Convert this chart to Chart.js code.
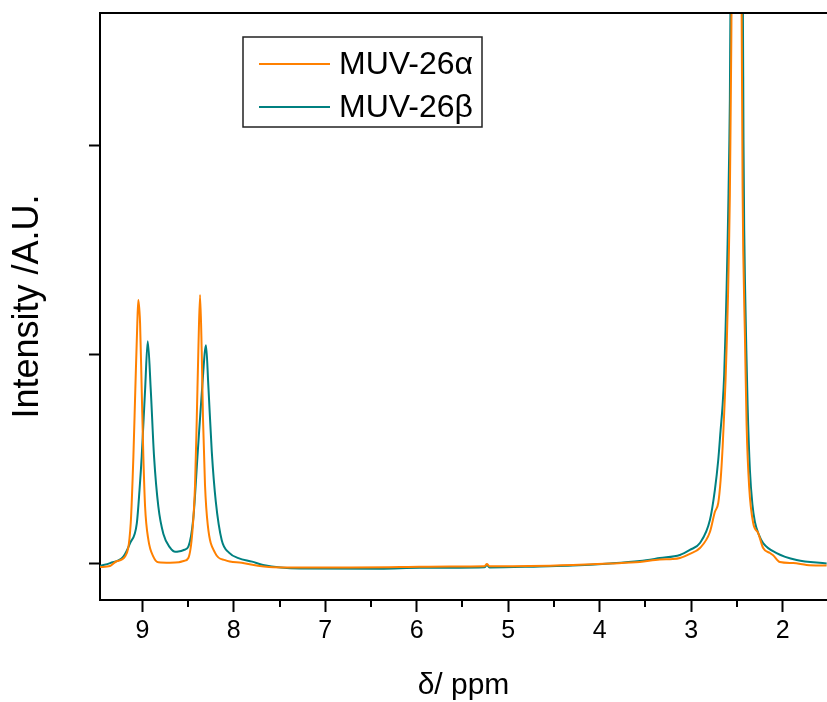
<!DOCTYPE html>
<html>
<head>
<meta charset="utf-8">
<script src="https://cdn.jsdelivr.net/npm/chart.js@4.4.1/dist/chart.umd.min.js"></script>
<style>
  html, body { margin: 0; padding: 0; background: #fff; }
  #wrap { width: 827px; height: 702px; }
</style>
</head>
<body>
<div id="wrap"><canvas id="c" width="827" height="702"></canvas></div>
<script>
// ---- data (chemical shift in ppm, intensity in arbitrary units) ----
const alphaPpm = [9.462, 9.353, 9.280, 9.189, 9.127, 9.098, 9.077, 9.055, 9.044, 9.025, 9.007, 8.989, 8.970, 8.934, 8.880, 8.825, 8.697, 8.600, 8.540, 8.497, 8.453, 8.424, 8.405, 8.388, 8.369, 8.351, 8.337, 8.315, 8.285, 8.205, 8.096, 7.914, 7.571, 7.276, 6.730, 6.183, 5.637, 5.260, 5.233, 5.205, 4.763, 4.293, 3.889, 3.561, 3.342, 3.200, 3.123, 3.014, 2.904, 2.795, 2.741, 2.704, 2.678, 2.656, 2.639, 2.624, 2.610, 2.597, 2.586, 2.577, 2.569, 2.561, 2.558, 2.500, 2.449, 2.438, 2.431, 2.413, 2.394, 2.366, 2.322, 2.267, 2.213, 2.139, 2.107, 2.030, 1.885, 1.738, 1.519];
const alphaInt = [-0.018, -0.013, 0.010, 0.032, 0.193, 0.511, 0.831, 1.152, 1.262, 1.152, 0.831, 0.511, 0.271, 0.112, 0.032, 0.005, 0.003, 0.005, 0.012, 0.025, 0.151, 0.375, 0.695, 1.015, 1.286, 1.015, 0.695, 0.375, 0.184, 0.050, 0.015, 0.002, -0.019, -0.020, -0.020, -0.018, -0.015, -0.014, -0.004, -0.014, -0.013, -0.008, -0.001, 0.006, 0.018, 0.020, 0.025, 0.045, 0.073, 0.150, 0.246, 0.289, 0.399, 0.557, 0.720, 0.878, 1.070, 1.286, 1.525, 1.764, 2.124, 2.508, 2.700, 3.500, 2.700, 1.804, 1.502, 1.104, 0.663, 0.366, 0.193, 0.145, 0.073, 0.049, 0.040, 0.006, 0.001, -0.008, -0.011];

const betaPpm = [9.462, 9.353, 9.208, 9.134, 9.061, 9.031, 9.007, 8.970, 8.941, 8.908, 8.872, 8.825, 8.770, 8.697, 8.640, 8.607, 8.540, 8.497, 8.443, 8.394, 8.344, 8.304, 8.279, 8.241, 8.197, 8.132, 8.050, 7.950, 7.800, 7.681, 7.276, 6.402, 5.965, 5.260, 5.233, 5.205, 4.654, 4.293, 3.889, 3.561, 3.342, 3.123, 3.014, 2.904, 2.795, 2.741, 2.704, 2.678, 2.656, 2.639, 2.624, 2.613, 2.602, 2.593, 2.584, 2.577, 2.570, 2.500, 2.435, 2.428, 2.420, 2.410, 2.399, 2.383, 2.358, 2.330, 2.303, 2.259, 2.213, 2.066, 1.847, 1.519];
const betaInt = [-0.013, 0.001, 0.032, 0.097, 0.190, 0.351, 0.511, 0.831, 1.064, 0.831, 0.511, 0.271, 0.140, 0.075, 0.055, 0.056, 0.065, 0.080, 0.215, 0.535, 0.855, 1.045, 0.855, 0.535, 0.295, 0.110, 0.050, 0.025, 0.008, -0.008, -0.025, -0.026, -0.022, -0.019, -0.008, -0.020, -0.015, -0.011, -0.001, 0.011, 0.025, 0.040, 0.064, 0.097, 0.207, 0.351, 0.495, 0.639, 0.759, 0.903, 1.119, 1.311, 1.526, 1.741, 1.981, 2.221, 2.700, 3.500, 2.700, 2.028, 1.596, 1.308, 1.068, 0.759, 0.448, 0.280, 0.198, 0.136, 0.097, 0.049, 0.016, -0.001];

const seriesLabels = ['MUV-26\u03B1', 'MUV-26\u03B2'];
const xMajorTicks = [9, 8, 7, 6, 5, 4, 3, 2];
const xMinorTicks = [8.5, 7.5, 6.5, 5.5, 4.5, 3.5, 2.5];
const yTicks = [0, 1, 2];

const FONT = "'Liberation Sans', Arial, sans-serif";
const ORANGE = '#FF8000';
const TEAL = '#008080';

const framePlugin = {
  id: 'frame',
  afterDraw(chart) {
    const ctx = chart.ctx;
    const ca = chart.chartArea;
    const xs = chart.scales.x;
    ctx.save();
    // top frame line
    ctx.strokeStyle = '#000';
    ctx.lineWidth = 2;
    ctx.beginPath();
    ctx.moveTo(ca.left - 1, ca.top);
    ctx.lineTo(chart.width, ca.top);
    ctx.stroke();
    // minor ticks
    xMinorTicks.forEach(v => {
      const px = Math.round(xs.getPixelForValue(v));
      ctx.beginPath();
      ctx.moveTo(px, ca.bottom);
      ctx.lineTo(px, ca.bottom + 7);
      ctx.stroke();
    });
    // legend box
    const bx = 243, by = 37, bw = 239, bh = 90;
    ctx.lineWidth = 1.5;
    ctx.strokeStyle = '#222';
    ctx.fillStyle = '#fff';
    ctx.fillRect(bx, by, bw, bh);
    ctx.strokeRect(bx, by, bw, bh);
    const rows = [64, 107];
    chart.data.datasets.forEach((ds, i) => {
      ctx.strokeStyle = ds.borderColor;
      ctx.lineWidth = 2;
      ctx.beginPath();
      ctx.moveTo(259, rows[i]);
      ctx.lineTo(330, rows[i]);
      ctx.stroke();
      ctx.fillStyle = '#000';
      ctx.font = '32px ' + FONT;
      ctx.textBaseline = 'middle';
      ctx.textAlign = 'left';
      ctx.fillText(ds.label, 339, rows[i] + 1);
    });
    ctx.restore();
  }
};

new Chart(document.getElementById('c'), {
  type: 'line',
  data: {
    datasets: [
      { label: seriesLabels[0], data: alphaPpm.map((x, i) => ({ x, y: alphaInt[i] })), borderColor: ORANGE, borderWidth: 2, pointRadius: 0, cubicInterpolationMode: 'monotone', fill: false },
      { label: seriesLabels[1], data: betaPpm.map((x, i) => ({ x, y: betaInt[i] })), borderColor: TEAL, borderWidth: 2, pointRadius: 0, cubicInterpolationMode: 'monotone', fill: false }
    ]
  },
  options: {
    responsive: false,
    animation: false,
    layout: { padding: { top: 13, right: 0, left: 0, bottom: 0 } },
    plugins: { legend: { display: false }, tooltip: { enabled: false } },
    scales: {
      x: {
        type: 'linear', reverse: true, min: 1.515, max: 9.463, position: 'bottom',
        afterBuildTicks: s => { s.ticks = xMajorTicks.map(v => ({ value: v })); },
        afterFit: s => { s.height = 102; },
        ticks: { font: { family: FONT, size: 25 }, color: '#000', padding: 4, maxRotation: 0, autoSkip: false, callback: v => String(v) },
        grid: { drawOnChartArea: false, drawTicks: true, tickLength: 12, tickWidth: 2, color: '#000' },
        border: { display: true, color: '#000', width: 2 },
        title: { display: true, text: '\u03B4/ ppm', font: { family: FONT, size: 30 }, color: '#000', padding: { top: 0, bottom: -2 } }
      },
      y: {
        min: -0.176, max: 2.637,
        afterBuildTicks: s => { s.ticks = yTicks.map(v => ({ value: v })); },
        afterFit: s => { s.width = 100; },
        ticks: { callback: () => '', padding: 0 },
        grid: { drawOnChartArea: false, drawTicks: true, tickLength: 11, tickWidth: 2, color: '#000' },
        border: { display: true, color: '#000', width: 2 },
        title: { display: true, text: 'Intensity /A.U.', font: { family: FONT, size: 36 }, color: '#000', padding: { top: 6, bottom: 0 } }
      }
    }
  },
  plugins: [framePlugin]
});
</script>
</body>
</html>
